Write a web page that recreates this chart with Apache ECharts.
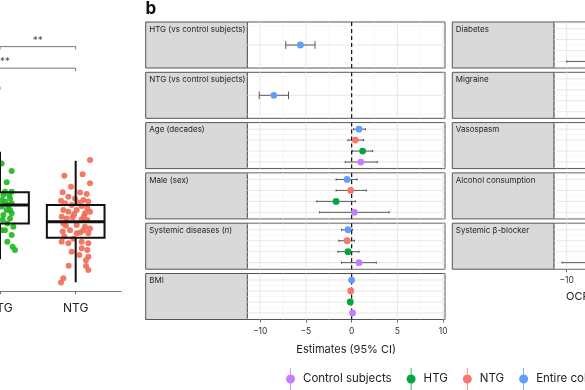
<!DOCTYPE html>
<html><head><meta charset="utf-8">
<script src="https://cdn.jsdelivr.net/npm/echarts@6/dist/echarts.min.js"></script>
<style>html,body{margin:0;padding:0;background:#fff}#c{width:585px;height:390px}</style>
</head><body><div id="c"></div>
<script>
// ---------------- DATA ----------------
// Panel a (box plot, cropped): categories and stats [min, Q1, median, Q3, max]
const boxCats = ['Control subjects', 'HTG', 'NTG'];
const boxStatsHTG = [11.0, 23.3, 29.6, 34.0, 47.9];
const boxStatsNTG = [3.1, 18.4, 23.9, 29.6, 44.8];
// jittered points: [offset from category centre, value]
const jitterNTG = [[0.189,45.1],[-0.150,39.7],[0.092,40.2],[-0.062,35.9],[0.189,37.1],[-0.172,34.0],[0.057,33.9],[0.145,33.4],[-0.097,32.5],[-0.009,31.9],[0.101,31.3],[0.167,30.8],[-0.194,31.1],[-0.141,30.2],[-0.053,29.6],[0.079,29.3],[0.154,28.5],[-0.163,27.9],[-0.097,27.3],[0.013,27.9],[0.123,26.8],[0.189,27.3],[-0.185,25.6],[-0.119,25.0],[-0.040,25.4],[0.079,24.7],[0.154,24.5],[-0.163,23.3],[0.013,22.8],[0.123,22.2],[0.189,21.6],[0.101,21.0],[-0.172,20.5],[-0.075,21.0],[0.013,19.9],[0.167,19.9],[-0.185,17.0],[-0.097,16.5],[0.079,17.0],[0.167,16.5],[-0.150,18.8],[0.079,14.8],[-0.053,13.6],[0.154,14.2],[0.048,12.5],[0.167,11.9],[0.136,10.7],[-0.093,8.8],[0.136,8.7],[0.167,7.3],[-0.163,4.5],[-0.194,3.0],[0.035,30.5],[-0.020,26.5],[0.110,25.8],[-0.130,22.5],[0.060,20.2],[-0.030,18.0]];
const jitterHTG = [[0.022,43.9],[0.154,41.3],[0.088,37.4],[0.154,34.2],[0.044,33.1],[0.132,31.9],[0.066,30.8],[0.154,30.2],[0.022,29.1],[0.088,27.9],[0.154,26.8],[0.044,26.2],[0.132,25.0],[0.176,22.2],[0.066,21.0],[0.154,19.3],[0.097,17.0],[0.167,15.3],[0.198,14.2],[0.022,31.3],[0.110,29.6],[0.066,34.2],[0.123,33.1],[0.035,24.6],[0.097,23.3],[0.022,21.0],[0.132,27.9]];
// significance brackets: [from category, to category], height, label
const bracketPairs = [[1, 2], [0, 2], [0, 1]];
const bracketHeights = [84.0, 76.6, 70.2];
const bracketLabels = ['**', '****', '**'];

// Panel b (forest plot): groups in row order top to bottom
const groups = ['Entire cohort', 'NTG', 'HTG', 'Control subjects'];
const groupColors = ['#619CFF', '#F8766D', '#00A83C', '#C77CFF'];
const legendOrder = ['Control subjects', 'HTG', 'NTG', 'Entire cohort'];
const xTickValues = [-10, -5, 0, 5, 10];
const xMinorValues = [-7.5, -2.5, 2.5, 7.5];

const midFacets = ['HTG (vs control subjects)', 'NTG (vs control subjects)', 'Age (decades)', 'Male (sex)', 'Systemic diseases (n)', 'BMI'];
// [estimate, lower, upper] for Entire cohort, NTG, HTG, Control subjects
const estHTGvsControl = [[-5.6, -7.2, -4.0], null, null, null];
const estNTGvsControl = [[-8.5, -10.1, -6.9], null, null, null];
const estAge = [[0.8, 0.2, 1.5], [0.4, -0.4, 1.3], [1.2, 0.1, 2.3], [1.0, -0.7, 2.8]];
const estMale = [[-0.5, -1.7, 0.6], [-0.1, -1.7, 1.6], [-1.7, -3.8, 0.4], [0.3, -3.5, 4.1]];
const estSystemic = [[-0.4, -1.1, 0.1], [-0.5, -1.4, 0.3], [-0.4, -1.5, 0.8], [0.8, -1.1, 2.7]];
const estBMI = [[0.0, -0.12, 0.12], [-0.1, -0.22, 0.02], [-0.15, -0.27, -0.03], [0.1, -0.05, 0.25]];

const rightFacets = ['Diabetes', 'Migraine', 'Vasospasm', 'Alcohol consumption', 'Systemic β-blocker'];
const estDiabetes = [[-1.5, -3.6, 0.6], [-1.2, -4.2, 1.8], [-2.0, -5.1, 1.1], [-2.6, -10.0, 4.8]];
const estMigraine = [[0.6, -1.2, 2.4], [0.4, -1.6, 2.4], [1.5, -2.4, 5.4], [-0.8, -5.9, 4.3]];
const estVasospasm = [[0.3, -1.4, 2.0], [0.9, -1.0, 2.8], [-1.2, -4.8, 2.4], [0.5, -3.2, 4.2]];
const estAlcohol = [[-0.2, -1.3, 0.9], [-0.4, -1.8, 1.0], [0.3, -1.7, 2.3], [-0.6, -3.1, 1.9]];
const estBetaBlocker = [[-0.8, -2.9, 1.3], [-0.3, -2.8, 2.2], [-1.6, -5.2, 2.0], [-3.1, -10.5, 4.3]];

// ---------------- LAYOUT / STYLE ----------------
const FONT = 'Inter';
const midStripLeft = 145.7, rightStripLeft = 452.3, stripW = 101.6, plotW = 197.7;
const rowTop0 = 22, rowStep = 50.3, rowH = 46;
const xMin = -11.4, xMax = 10.2;
const fmtNum = v => (v < 0 ? '\u2212' + Math.abs(v) : String(v));

const grids = [], xAxes = [], yAxes = [], series = [], graphics = [];

// ----- panel a -----
grids.push({left: -121.1, top: 0, width: 242.2, height: 291.3, outerBoundsMode: 'none', containLabel: false});
xAxes.push({gridIndex: 0, type: 'value', min: -0.6, max: 2.6,
  axisLine: {show: true, onZero: false, lineStyle: {color: '#777', width: 1}},
  axisTick: {show: true, customValues: [0, 1, 2], length: 3, lineStyle: {color: '#777', width: 1}},
  axisLabel: {customValues: [0, 1, 2], formatter: v => boxCats[Math.round(v)], color: '#222', fontSize: 12, margin: 11, fontFamily: FONT},
  splitLine: {show: false}});
yAxes.push({gridIndex: 0, type: 'value', min: 0, max: 100, show: false});

series.push({type: 'scatter', name: 'pts-NTG', xAxisIndex: 0, yAxisIndex: 0, z: 3, symbolSize: 6,
  itemStyle: {color: '#F26A55', opacity: 0.9}, data: jitterNTG.map(d => [2 + d[0], d[1]])});
series.push({type: 'scatter', name: 'pts-HTG', xAxisIndex: 0, yAxisIndex: 0, z: 3, symbolSize: 6,
  itemStyle: {color: '#1DB81D', opacity: 0.9}, data: jitterHTG.map(d => [1 + d[0], d[1]])});
series.push({type: 'custom', name: 'box', xAxisIndex: 0, yAxisIndex: 0, z: 5,
  data: [[1].concat(boxStatsHTG), [2].concat(boxStatsNTG)],
  renderItem: (p, api) => {
    const x = api.value(0), hw = 0.381;
    const pMin = api.coord([x, api.value(1)]), pQ1 = api.coord([x, api.value(2)]),
      pMed = api.coord([x, api.value(3)]), pQ3 = api.coord([x, api.value(4)]), pMax = api.coord([x, api.value(5)]);
    const l = api.coord([x - hw, 0])[0], r = api.coord([x + hw, 0])[0];
    const st = {stroke: '#111', lineWidth: 2, fill: null};
    return {type: 'group', children: [
      {type: 'line', shape: {x1: pMin[0], y1: pMin[1], x2: pQ1[0], y2: pQ1[1]}, style: st},
      {type: 'line', shape: {x1: pQ3[0], y1: pQ3[1], x2: pMax[0], y2: pMax[1]}, style: st},
      {type: 'rect', shape: {x: l, y: pQ3[1], width: r - l, height: pQ1[1] - pQ3[1]}, style: st},
      {type: 'line', shape: {x1: l, y1: pMed[1], x2: r, y2: pMed[1]}, style: {stroke: '#111', lineWidth: 3}}
    ]};
  }});
bracketPairs.forEach((pr, i) => {
  const y = bracketHeights[i], tip = 1;
  series.push({type: 'line', name: 'bracket' + i, xAxisIndex: 0, yAxisIndex: 0, z: 6, symbol: 'none', silent: true,
    lineStyle: {color: '#666', width: 0.9},
    data: [[pr[0], y - tip], [pr[0], y], [pr[1], y], [pr[1], y - tip]]});
  series.push({type: 'scatter', name: 'sig' + i, xAxisIndex: 0, yAxisIndex: 0, z: 6, symbolSize: 0, silent: true,
    data: [[(pr[0] + pr[1]) / 2, y]],
    label: {show: true, position: 'top', distance: 1, formatter: bracketLabels[i], color: '#222', fontSize: 10, fontFamily: FONT}});
});

// ----- panel b -----
function renderGridLines(params, api) {
  const cs = params.coordSys;
  const kind = api.value(2);
  const p = api.coord([api.value(0), api.value(1)]);
  const styles = [
    {stroke: '#E4E4E4', lineWidth: 0.9},
    {stroke: '#F1F1F1', lineWidth: 0.6},
    {stroke: '#111', lineWidth: 1.2, lineDash: [4, 3]}
  ];
  const vertical = api.value(3) === 1;
  const shape = vertical ? {x1: p[0], y1: cs.y, x2: p[0], y2: cs.y + cs.height}
                         : {x1: cs.x, y1: p[1], x2: cs.x + cs.width, y2: p[1]};
  return {type: 'line', shape: shape, style: styles[kind], z2: kind === 2 ? 5 : 0};
}
function renderEstimate(params, api) {
  const est = api.value(0), lo = api.value(1), hi = api.value(2), yv = api.value(3);
  const pL = api.coord([lo, yv]), pH = api.coord([hi, yv]), pE = api.coord([est, yv]);
  const cap = 0.1 * api.size([0, 1])[1];
  const st = {stroke: '#4a4a4a', lineWidth: 0.9};
  return {type: 'group', children: [
    {type: 'line', shape: {x1: pL[0], y1: pL[1], x2: pH[0], y2: pH[1]}, style: st},
    {type: 'line', shape: {x1: pL[0], y1: pL[1] - cap, x2: pL[0], y2: pL[1] + cap}, style: st},
    {type: 'line', shape: {x1: pH[0], y1: pH[1] - cap, x2: pH[0], y2: pH[1] + cap}, style: st},
    {type: 'circle', shape: {cx: pE[0], cy: pE[1], r: 3.4}, style: {fill: api.visual('color')}}
  ]};
}

function addFacet(stripLeft, row, title, ests, bottomAxis, axisName) {
  const gi = grids.length;
  const top = rowTop0 + row * rowStep;
  const single = ests.filter(e => e).length === 1;
  grids.push({left: stripLeft + stripW, top: top, width: plotW, height: rowH, show: true,
    outerBoundsMode: 'none', containLabel: false,
    backgroundColor: '#fff', borderColor: '#555', borderWidth: 1});
  const xa = {gridIndex: gi, type: 'value', min: xMin, max: xMax, show: bottomAxis,
    axisLine: {show: false},
    axisTick: {show: true, customValues: xTickValues, length: 3, lineStyle: {color: '#444', width: 0.8}},
    axisLabel: {customValues: xTickValues, formatter: fmtNum, color: '#333', fontSize: 8.5, margin: 7, fontFamily: FONT},
    splitLine: {show: false}};
  if (axisName) {
    Object.assign(xa, {name: axisName, nameLocation: 'middle', nameGap: 25,
      nameTextStyle: {fontSize: 11, color: '#222', fontFamily: FONT}});
  }
  xAxes.push(xa);
  const yMax = single ? 1.6 : 4.6;
  yAxes.push({gridIndex: gi, type: 'value', min: 0.4, max: yMax, inverse: true, show: false});
  // grid lines
  const gl = [];
  xTickValues.forEach(v => gl.push([v, 1, 0, 1]));
  xMinorValues.forEach(v => gl.push([v, 1, 1, 1]));
  const nCat = single ? 1 : 4;
  for (let k = 1; k <= nCat; k++) gl.push([0, k, 0, 0]);
  for (let k = 0; k <= nCat; k++) gl.push([0, k + 0.5, 1, 0]);
  gl.push([0, 1, 2, 1]);
  series.push({type: 'custom', name: 'grid' + gi, xAxisIndex: gi, yAxisIndex: gi, z: 1, silent: true,
    renderItem: renderGridLines, data: gl});
  // estimates
  ests.forEach((e, i) => {
    if (!e) return;
    const yPos = single ? 1 : i + 1;
    series.push({type: 'custom', name: groups[i], xAxisIndex: gi, yAxisIndex: gi, z: 10, clip: true,
      itemStyle: {color: groupColors[i]}, renderItem: renderEstimate,
      data: [[e[0], e[1], e[2], yPos]]});
  });
  // strip
  graphics.push({type: 'rect', shape: {x: stripLeft, y: top, width: stripW, height: rowH},
    style: {fill: '#D9D9D9', stroke: '#555', lineWidth: 1}, z: 0});
  let txt = title, rich = null;
  if (title.indexOf('(n)') >= 0) {
    txt = title.replace('(n)', '({it|n})');
    rich = {it: {fontStyle: 'italic', fontSize: 8, fontFamily: FONT, fill: '#222'}};
  }
  graphics.push({type: 'text', x: stripLeft + 3.5, y: top + 7.3,
    style: {text: txt, rich: rich || undefined, fill: '#222', fontSize: 8, fontFamily: FONT, verticalAlign: 'middle', align: 'left'}, z: 2});
}

const midEsts = [estHTGvsControl, estNTGvsControl, estAge, estMale, estSystemic, estBMI];
midFacets.forEach((t, i) => addFacet(midStripLeft, i, t, midEsts[i], i === midFacets.length - 1, i === midFacets.length - 1 ? 'Estimates (95% CI)' : null));
const rightEsts = [estDiabetes, estMigraine, estVasospasm, estAlcohol, estBetaBlocker];
rightFacets.forEach((t, i) => addFacet(rightStripLeft, i, t, rightEsts[i], i === rightFacets.length - 1, null));

graphics.push({type: 'text', x: 566, y: 297, style: {text: 'OCR', fill: '#222', fontSize: 11, fontFamily: FONT, verticalAlign: 'middle', align: 'left'}});
graphics.push({type: 'text', x: 145.5, y: 8.5, style: {text: 'b', fill: '#111', fontSize: 17, fontWeight: 'bold', fontFamily: FONT, verticalAlign: 'middle', align: 'left'}});

const iconPath = 'path://M4.5,6.5 A4.5,4.5 0 1,1 4.5,15.5 A4.5,4.5 0 1,1 4.5,6.5 Z M4.1,0 L4.9,0 L4.9,22 L4.1,22 Z';

const option = {
  animation: false,
  backgroundColor: '#fff',
  textStyle: {fontFamily: FONT},
  grid: grids, xAxis: xAxes, yAxis: yAxes,
  legend: {left: 286, top: 368, width: 700, padding: 0, itemWidth: 9, itemHeight: 22, itemGap: 15,
    data: legendOrder.map(n => ({name: n, icon: iconPath})),
    textStyle: {fontSize: 11.5, color: '#222', fontFamily: FONT, padding: [0, 0, 0, 3]}},
  graphic: graphics,
  series: series
};
const chart = echarts.init(document.getElementById('c'));
chart.setOption(option);
</script></body></html>
